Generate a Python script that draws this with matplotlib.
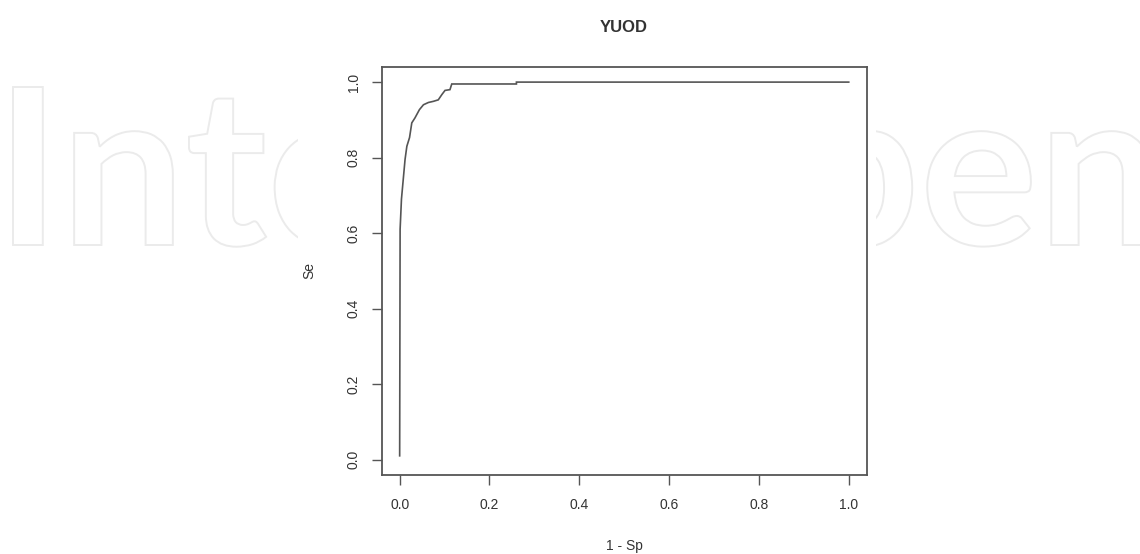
import matplotlib
matplotlib.use("Agg")
import matplotlib.pyplot as plt
from matplotlib.textpath import TextPath
from matplotlib.patches import PathPatch, Rectangle
from matplotlib.font_manager import FontProperties
from matplotlib.transforms import Affine2D

# ROC curve values
fpr = [0.0, 0.001, 0.004, 0.012, 0.016, 0.022, 0.027, 0.034, 0.044, 0.053,
       0.064, 0.075, 0.086, 0.094, 0.101, 0.112, 0.116, 0.26, 0.26, 1.0]
tpr = [0.01, 0.61, 0.69, 0.795, 0.83, 0.853, 0.892, 0.905, 0.927, 0.94,
       0.946, 0.949, 0.953, 0.967, 0.978, 0.98, 0.995, 0.995, 1.0, 1.0]
ticks = [0.0, 0.2, 0.4, 0.6, 0.8, 1.0]
tick_labels = ["0.0", "0.2", "0.4", "0.6", "0.8", "1.0"]
title = "YUOD"
xlabel = "1 - Sp"
ylabel = "Se"
watermark = "IntechOpen"

W, H = 1140, 554
fig = plt.figure(figsize=(W / 100, H / 100), dpi=100)
fig.patch.set_facecolor("white")

# faint outlined watermark in figure pixel coordinates
fp = FontProperties(family="Lato", weight="bold")
tp = TextPath((0, 0), watermark, size=100, prop=fp)
cap = TextPath((0, 0), "I", size=100, prop=fp).get_extents().height
ext = tp.get_extents()
x0, x1 = 13, 1150
sx = (x1 - x0) / ext.width
sy = 158.0 / cap
tr = Affine2D().translate(-ext.x0, 0).scale(sx, sy).translate(x0, H - 245)
wm = PathPatch(tr.transform_path(tp), facecolor="none", edgecolor="#ebebeb",
               lw=1.4, transform=None, zorder=0)
fig.patches.append(wm)
# white panel behind the plot
fig.patches.append(Rectangle((298 / W, 0), (876 - 298) / W, 1, transform=fig.transFigure,
                             facecolor="white", edgecolor="none", zorder=0.5))

ax = fig.add_axes([381.7 / W, 1 - 474.7 / H, (866.7 - 381.7) / W, (474.7 - 67) / H])
ax.set_zorder(2)
ax.plot(fpr, tpr, color="#555555", lw=1.2, solid_joinstyle="miter")
ax.set_xlim(-0.04, 1.04)
ax.set_ylim(-0.04, 1.04)

tc = "#333333"
ax.set_xticks(ticks)
ax.set_xticklabels(tick_labels)
ax.set_yticks(ticks)
ax.set_yticklabels(tick_labels, rotation=90, va="center")
ax.tick_params(axis="both", length=7, width=1.0, color="#555555", labelsize=10,
               labelcolor=tc)
ax.tick_params(axis="x", pad=10)
ax.tick_params(axis="y", pad=8)
for lab in ax.get_xticklabels() + ax.get_yticklabels():
    lab.set_family("Liberation Sans")
for s in ax.spines.values():
    s.set_color("#555555")
    s.set_linewidth(1.3)

ax.set_xlabel(xlabel, fontsize=10, family="Liberation Sans", color=tc, labelpad=19)
ax.set_ylabel(ylabel, fontsize=10, family="Liberation Sans", color=tc, labelpad=22)
fig.text(624 / W, 1 - 27.5 / H, title, ha="center", va="center", fontsize=12,
         fontweight="bold", family="Liberation Sans", color=tc)

fig.savefig("out.png", dpi=100, facecolor="white")
